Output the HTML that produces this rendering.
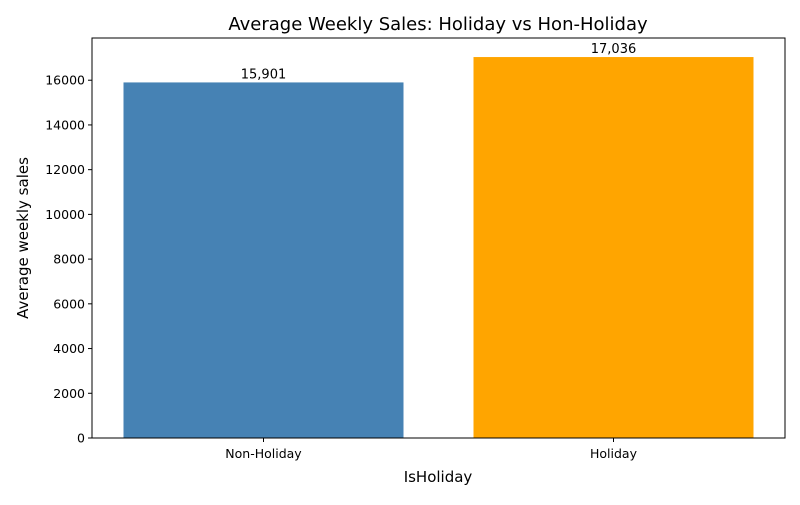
<!DOCTYPE html>
<html><head><meta charset="utf-8"><style>
body{margin:0;background:#fff;font-family:"Liberation Sans","DejaVu Sans",sans-serif;}
</style></head><body>
<svg width="800" height="500" xmlns="http://www.w3.org/2000/svg" font-family="DejaVu Sans, Liberation Sans, sans-serif">
<text x="438" y="30" font-size="18" text-anchor="middle">Average Weekly Sales: Holiday vs Hon-Holiday</text>
<g id="plot"></g>
<text x="438" y="482" font-size="15" text-anchor="middle">IsHoliday</text>
<text transform="translate(28,238) rotate(-90)" font-size="15" text-anchor="middle">Average weekly sales</text>
</svg>
<script>
const categories = ["Non-Holiday", "Holiday"];
const values = [15901, 17036];
const valueLabels = ["15,901", "17,036"];
const yTicks = [0, 2000, 4000, 6000, 8000, 10000, 12000, 14000, 16000];
const colors = ["#4682b4", "#ffa500"];

const L=92,R=785,T=38,B=438;
const yMax = Math.max(...values)*1.05;
const y = v => B - v/yMax*(B-T);
const xMin=-0.49, xMax=categories.length-1+0.49;
const x = i => L + (i-xMin)/(xMax-xMin)*(R-L);
const unit = (R-L)/(xMax-xMin);
const NS="http://www.w3.org/2000/svg";
const g=document.getElementById('plot');
function mk(t,a){const e=document.createElementNS(NS,t);for(const k in a)e.setAttribute(k,a[k]);g.appendChild(e);return e;}
values.forEach((v,i)=>{
  const r=mk('rect',{x:x(i)-0.4*unit,y:y(v),width:0.8*unit,height:B-y(v),fill:colors[i]});
  
  
  const t=mk('text',{x:x(i),y:y(v)-4,'font-size':13,'text-anchor':'middle'});
  t.textContent=valueLabels[i];
  
  
  mk('line',{x1:x(i),x2:x(i),y1:B,y2:B+4,stroke:'#000'});
  const xl=mk('text',{x:x(i),y:B+20,'font-size':12.5,'text-anchor':'middle'});
  xl.textContent=categories[i];
  
  
});
yTicks.forEach(v=>{
  mk('line',{x1:L-4,x2:L,y1:y(v),y2:y(v),stroke:'#000'});
  const t=mk('text',{x:L-7,y:y(v)+4.5,'font-size':12.5,'text-anchor':'end'});
  t.textContent=v;
  
  
});
const f=mk('rect',{x:L,y:T,width:R-L,height:B-T,fill:'none',stroke:'#000','stroke-width':1});


</script>
</body></html>
